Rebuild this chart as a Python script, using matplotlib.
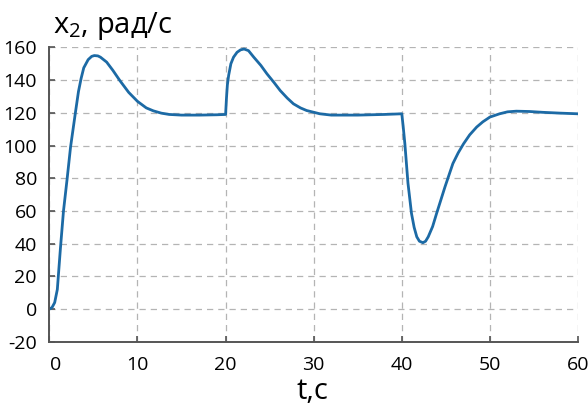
import matplotlib.pyplot as plt
from matplotlib.transforms import ScaledTranslation

plt.rcParams['font.family'] = ['Open Sans', 'DejaVu Sans']
plt.rcParams['mathtext.default'] = 'regular'
plt.rcParams['axes.unicode_minus'] = False

# step response
t = [0, 0.3, 0.6, 0.9, 1.25, 1.6, 2.0, 2.4, 2.95, 3.3, 3.6, 3.9, 4.4, 4.8, 5.1, 5.5,
     5.8, 6.5, 7.2, 8.0, 9.0, 10.0, 11.0, 11.8, 12.7, 13.6, 15.0, 17.0, 19.0, 20.0,
     20.1, 20.2, 20.35, 20.6, 20.9, 21.3, 21.7, 22.1, 22.6, 23.2, 24.0, 24.7,
     25.5, 26.2, 27.0, 27.7, 28.5, 29.2, 30.7, 32.0, 35.0, 38.0, 40.0,
     40.15, 40.35, 40.7, 41.1, 41.4, 41.7, 42.0, 42.4, 42.7, 43.0, 43.5, 43.95,
     44.9, 45.8, 46.4, 47.0, 47.7, 48.5, 49.2, 50.0, 51.1, 52.0, 53.0, 54.5,
     56.0, 58.0, 60.0]
x2 = [0, 1, 4, 12, 37, 60, 79, 99, 120, 133, 141, 147.5, 152.5, 154.5, 155, 154.8,
      154, 151, 146, 139.7, 132.5, 127, 123, 121.2, 119.8, 119, 118.6, 118.6, 118.8, 119,
      129, 137, 143, 150, 154, 157, 158.5, 159, 158, 154, 149, 143.8,
      138.5, 133.6, 129, 125.5, 123, 121.4, 119.4, 118.6, 118.6, 119, 119.4,
      112, 101, 77, 58.5, 50, 44.2, 41.5, 40.6, 41.5, 44.2, 50.5, 58.5,
      74.7, 89, 95.5, 101, 106.5, 111.3, 114.5, 117.4, 119.4, 120.6, 121, 120.8,
      120.3, 119.8, 119.4]

xticks = [0, 10, 20, 30, 40, 50, 60]
yticks = [-20, 0, 20, 40, 60, 80, 100, 120, 140, 160]

fig = plt.figure(figsize=(5.88, 4.05), dpi=100)
ax = fig.add_axes([0.084, 0.156, 0.899, 0.727])
ax.plot(t, x2, color='#1c6aa5', lw=2.0)

ax.set_xlim(0, 60)
ax.set_ylim(-20, 160)
ax.set_xticks(xticks)
ax.set_yticks(yticks)
ax.grid(True, ls=(0, (5, 4)), color='#b4b4b4', lw=0.9)
for s in ['top', 'right']:
    ax.spines[s].set_visible(False)
for s in ['left', 'bottom']:
    ax.spines[s].set_color('#555555')
    ax.spines[s].set_linewidth(1.4)
ax.tick_params(direction='in', length=4, width=1.2, color='#555555',
               labelsize=14)
ax.tick_params(axis='y', pad=9)
ax.tick_params(axis='x', pad=10)

# the "0" label sits a bit right of the axis in the original
lab0 = ax.get_xticklabels()[0]
lab0.set_transform(lab0.get_transform() + ScaledTranslation(0.06, 0, fig.dpi_scale_trans))

fig.text(0.09, 0.918, 'x$_{2}$, рад/с', fontsize=21, va='baseline')
fig.text(0.532, 0.014, 't,c', fontsize=21, ha='center', va='baseline')

fig.savefig('out.png')
